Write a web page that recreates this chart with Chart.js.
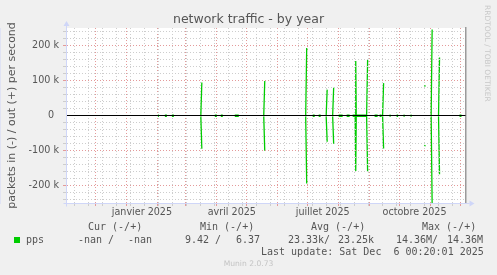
<!DOCTYPE html>
<html>
<head>
<meta charset="utf-8">
<script src="https://cdn.jsdelivr.net/npm/chart.js@4.4.1/dist/chart.umd.min.js"></script>
<style>
  body { margin: 0; background: #f0f0f0; }
  #wrap { position: relative; width: 497px; height: 275px; overflow: hidden; }
  #c { position: absolute; left: 0; top: 0; }
  .t { position: absolute; white-space: pre; font-family: "DejaVu Sans Mono", monospace; font-size: 10px; line-height: 12px; height: 12px; color: #555; }
  #rrd { position: absolute; left: 483px; top: 5px; writing-mode: vertical-rl; font-family: "DejaVu Sans", sans-serif; font-size: 7.5px; line-height: 9px; color: #c8c8c8; white-space: pre; }
  #munin { position: absolute; left: 0; width: 497px; top: 259px; text-align: center; font-family: "DejaVu Sans", sans-serif; font-size: 7.6px; line-height: 10px; color: #c4c4c4; }
  #sw { position: absolute; left: 14px; top: 237px; width: 6px; height: 6px; background: #00cc00; }
</style>
</head>
<body>
<div id="wrap">
  <canvas id="c" width="497" height="275"></canvas>
  <div id="rrd">RRDTOOL / TOBI OETIKER</div>
  <div class="t" style="left:88px;top:221px">Cur (-/+)</div>
  <div class="t" style="left:200px;top:221px">Min (-/+)</div>
  <div class="t" style="left:311px;top:221px">Avg (-/+)</div>
  <div class="t" style="left:422px;top:221px">Max (-/+)</div>
  <div id="sw"></div>
  <div class="t" style="left:26px;top:234px">pps</div>
  <div class="t" style="left:78px;top:234px">-nan /</div>
  <div class="t" style="left:128px;top:234px">-nan</div>
  <div class="t" style="left:185px;top:234px">9.42 /</div>
  <div class="t" style="left:236px;top:234px">6.37</div>
  <div class="t" style="left:288px;top:234px">23.33k/</div>
  <div class="t" style="left:338px;top:234px">23.25k</div>
  <div class="t" style="left:396px;top:234px">14.36M/</div>
  <div class="t" style="left:447px;top:234px">14.36M</div>
  <div class="t" style="left:261px;top:246px">Last update: Sat Dec  6 00:20:01 2025</div>
  <div id="munin">Munin 2.0.73</div>
</div>
<script>
// jours depuis le 1er novembre 2024 (fenetre de 400 jours jusqu'au 6 dec 2025)
// null = pas de donnees (trou dans la courbe)
const days = [
  92, 93, 96, 99, 101, 103, 106, 108, 120,
  135, 136, 140, 149, 151, 153, 155, 157, 163, 169, 173, 185,
  198, 199, 220, 240, 241, 244, 247, 249, 251, 253, 255, 258,
  260.5, 261.5, 264, 267, 268, 270, 273, 277, 279, 281, 284, 285.5,
  287, 289.6, 290.1, 290.6, 294, 297, 301, 302, 305,
  309, 312, 313, 314, 316, 316.5, 317, 318, 321, 324, 325, 328,
  331, 332.5, 335, 338, 339, 342, 345, 346, 352,
  358.7, 360, 362, 365.6, 366.6, 370, 373, 374, 384, 394, 396
];
// paquets sortants (+)
const outPps = [
  800, 800, null, 800, 800, null, 800, 800, null,
  800, 94000, null, 800, 800, null, 800, 800, null, 800, 800, null,
  800, 98500, null, 800, 193000, null, 800, 800, null, 800, 800, null,
  800, 74000, null, 800, 79000, null, 800, 800, null, 800, 800, null,
  800, 800, 156000, 800, 800, 800, 800, 159500, null,
  800, 800, null, 800, 800, null, 800, 92500, null, 800, 800, null,
  800, 800, null, 800, 800, null, 800, 800, null,
  84000, 85000, null, 800, 246000, null, 800, 166000, null, 800, 800
];
// paquets entrants (-), dessines en negatif
const inPps = [
  2500, 2500, null, 2500, 2500, null, 2500, 2500, null,
  2500, 95000, null, 2500, 2500, null, 2500, 2500, null, 2500, 2500, null,
  2500, 100500, null, 2500, 194000, null, 2500, 2500, null, 2500, 2500, null,
  2500, 75000, null, 2500, 80500, null, 2500, 2500, null, 2500, 2500, null,
  2500, 2500, 158500, 2500, 2500, 2500, 2500, 161000, null,
  2500, 2500, null, 2500, 2500, null, 2500, 94000, null, 2500, 2500, null,
  2500, 2500, null, 2500, 2500, null, 2500, 2500, null,
  85500, 86500, null, 2500, 252000, null, 2500, 168000, null, 2500, 2500
];

// debuts de mois (grille rouge) et dimanches toutes les 2 semaines (grille grise)
const monthStarts = [30, 61, 92, 120, 151, 181, 212, 242, 273, 304, 334, 365, 395];
const weekMarks = [9, 23, 37, 51, 65, 79, 93, 107, 121, 135, 149, 163, 177, 191,
                   205, 219, 233, 247, 261, 275, 289, 303, 317, 331, 345, 359, 373, 387];
const labelDays = [76, 166, 257, 349];
const labelTexts = ['janvier 2025', 'avril 2025', 'juillet 2025', 'octobre 2025'];
const yLabelValues = [200000, 100000, 0, -100000, -200000];
const yLabelTexts = ['200 k', '100 k', '0\u2002', '-100 k', '-200 k'];

const RED = '#e49a9a', GREY = '#cdcdcd', AXIS = '#cfd6f8', NONE = 'rgba(0,0,0,0)';

function xGridColor(c) {
  let v = c.tick ? c.tick.value : null;
  if (monthStarts.includes(v)) return RED;
  if (weekMarks.includes(v)) return GREY;
  return NONE;
}
function yGridColor(c) {
  let v = c.tick ? c.tick.value : null;
  if (v === 0) return '#000';
  if (v % 100000 === 0) return RED;
  return GREY;
}

// fond blanc de la zone de trace + fleches des axes
const fondEtFleches = {
  id: 'fondEtFleches',
  beforeDraw(chart) {
    const a = chart.chartArea, ctx = chart.ctx;
    ctx.save();
    ctx.fillStyle = '#fff';
    ctx.fillRect(a.left, a.top, a.right - a.left, a.bottom - a.top);
    ctx.restore();
  },
  afterDraw(chart) {
    const a = chart.chartArea, ctx = chart.ctx;
    const x0 = Math.round(a.left) + 0.5, y0 = Math.round(a.bottom) + 0.5;
    ctx.save();
    ctx.strokeStyle = AXIS; ctx.fillStyle = AXIS; ctx.lineWidth = 1;
    ctx.beginPath();
    ctx.moveTo(x0, y0 + 3); ctx.lineTo(x0, a.top - 2);
    ctx.moveTo(x0 - 3, y0); ctx.lineTo(a.right + 4, y0);
    ctx.stroke();
    ctx.beginPath();
    ctx.moveTo(x0 - 3, a.top - 2); ctx.lineTo(x0 + 3, a.top - 2); ctx.lineTo(x0, a.top - 7); ctx.closePath();
    ctx.fill();
    ctx.beginPath();
    ctx.moveTo(a.right + 4, y0 - 3); ctx.lineTo(a.right + 4, y0 + 3); ctx.lineTo(a.right + 9, y0); ctx.closePath();
    ctx.fill();
    ctx.restore();
  }
};

const tickFont = { family: 'DejaVu Sans', size: 9.6 };

new Chart(document.getElementById('c'), {
  type: 'line',
  data: {
    datasets: [
      {
        label: 'pps out',
        data: days.map((d, i) => ({ x: d, y: outPps[i] })),
        borderColor: '#00cc00', borderWidth: 1.3, pointRadius: 0, spanGaps: false, tension: 0
      },
      {
        label: 'pps in',
        data: days.map((d, i) => ({ x: d, y: inPps[i] === null ? null : -inPps[i] })),
        borderColor: '#00cc00', borderWidth: 1.3, pointRadius: 0, spanGaps: false, tension: 0
      }
    ]
  },
  options: {
    responsive: false,
    animation: false,
    events: [],
    layout: { padding: { top: 0, right: 0, bottom: 0, left: 0 } },
    plugins: {
      legend: { display: false },
      tooltip: { enabled: false },
      title: {
        display: true,
        text: 'network traffic - by year',
        color: '#555',
        font: { family: 'DejaVu Sans', size: 12.5, weight: 'normal' },
        padding: { top: 11.8, bottom: 1.2 }
      }
    },
    scales: {
      x: {
        type: 'linear', min: 0, max: 400,
        afterBuildTicks: s => {
          s.ticks = [...monthStarts, ...weekMarks, ...labelDays].sort((a, b) => a - b).map(v => ({ value: v }));
        },
        afterFit: s => { s.height = 72; },
        ticks: {
          autoSkip: false, maxRotation: 0, padding: 1, color: '#555', font: tickFont,
          callback: v => { let i = labelDays.indexOf(v); return i >= 0 ? labelTexts[i] : ''; }
        },
        grid: { color: xGridColor, tickColor: xGridColor, tickLength: 3, lineWidth: 1 },
        border: { color: AXIS, dash: [1, 2] }
      },
      y: {
        min: -250000, max: 250000,
        afterBuildTicks: s => {
          let t = [];
          for (let v = -240000; v <= 240000; v += 20000) t.push({ value: v });
          s.ticks = t;
        },
        afterFit: s => { s.width = 66; },
        ticks: {
          autoSkip: false, padding: 4, color: '#555', font: tickFont,
          callback: v => { let i = yLabelValues.indexOf(v); return i >= 0 ? yLabelTexts[i] : ''; }
        },
        grid: {
          z: 1, color: yGridColor, tickLength: 3,
          tickColor: c => (c.tick && c.tick.value === 0) ? NONE : yGridColor(c)
        },
        border: { color: AXIS, dash: c => (c.tick && c.tick.value === 0) ? [] : [1, 2] },
        title: {
          display: true, text: 'packets in (-) / out (+) per second', color: '#555',
          font: { family: 'DejaVu Sans', size: 11 }, padding: { top: 5.5, bottom: 0 }
        }
      },
      y2: {
        position: 'right', min: -250000, max: 250000,
        afterFit: s => { s.width = 31.5; },
        ticks: { display: false },
        grid: { drawOnChartArea: false, drawTicks: false },
        border: { color: '#9a9a9a', width: 1.5 }
      }
    }
  },
  plugins: [fondEtFleches]
});
</script>
</body>
</html>
